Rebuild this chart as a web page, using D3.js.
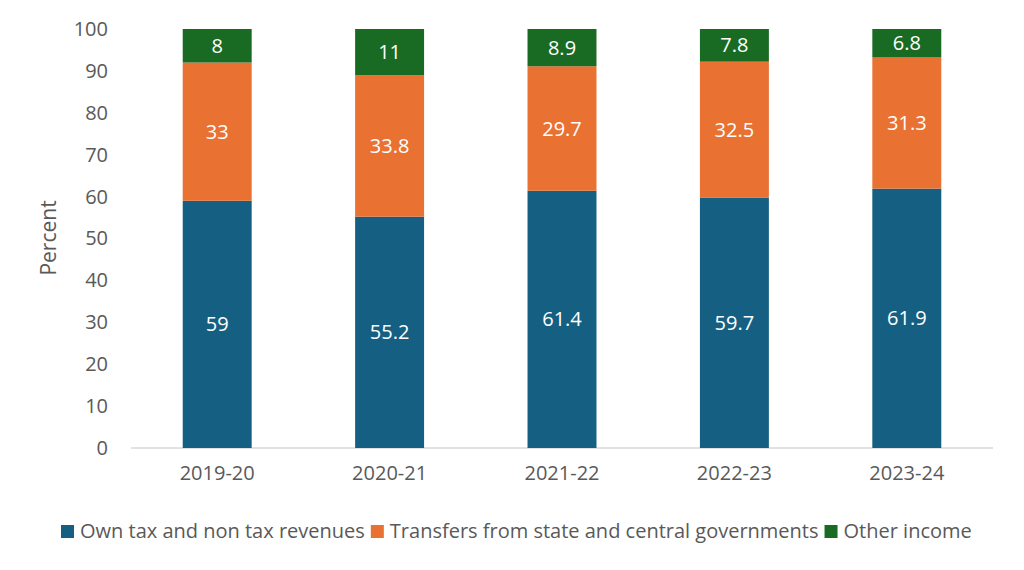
<!DOCTYPE html>
<html><head><meta charset="utf-8">
<script src="https://cdn.jsdelivr.net/npm/d3@7"></script>
<style>body{margin:0;background:#fff}svg{display:block}text{font-family:"Open Sans",sans-serif}</style>
</head><body><svg id="c" width="1024" height="570"></svg>
<script>
const categories = ["2019-20","2020-21","2021-22","2022-23","2023-24"];
const ownRevenue = [59,55.2,61.4,59.7,61.9];
const transfers = [33,33.8,29.7,32.5,31.3];
const otherIncome = [8,11,8.9,7.8,6.8];
const seriesNames = ["Own tax and non tax revenues","Transfers from state and central governments","Other income"];
const yTicks = [0,10,20,30,40,50,60,70,80,90,100];
const colors = ["#156082","#E97132","#196B24"];

const svg = d3.select("#c");
const x = d3.scaleBand().domain(categories).range([131,993]).paddingInner(0.6).paddingOuter(0.3);
const y = d3.scaleLinear().domain([0,100]).range([448,29]);
const rows = categories.map((c,i)=>({cat:c, s0:ownRevenue[i], s1:transfers[i], s2:otherIncome[i]}));
const stack = d3.stack().keys(["s0","s1","s2"])(rows);

const yAxis = d3.axisLeft(y).tickValues(yTicks).tickSize(0).tickPadding(0);
const ya = svg.append("g").attr("transform","translate(108,0)").call(yAxis);
ya.select(".domain").remove();
ya.selectAll("text").attr("font-size",20).attr("fill","#595959").attr("font-family","Open Sans");

svg.append("line").attr("x1",131).attr("x2",993).attr("y1",y(0)).attr("y2",y(0)).attr("stroke","#d9d9d9").attr("stroke-width",1.3);

stack.forEach((layer,k)=>{
  const g = svg.append("g");
  g.selectAll("rect").data(layer).join("rect")
    .attr("x",d=>x(d.data.cat)).attr("width",x.bandwidth())
    .attr("y",d=>y(d[1])).attr("height",d=>y(d[0])-y(d[1]))
    .attr("fill",colors[k]);
  g.selectAll("text").data(layer).join("text")
    .attr("x",d=>x(d.data.cat)+x.bandwidth()/2)
    .attr("y",d=>(y(d[0])+y(d[1]))/2)
    .attr("dy","0.35em").attr("text-anchor","middle")
    .attr("font-size",20).attr("fill","#fff")
    .text(d=>d[1]-d[0] ? String(+(d[1]-d[0]).toFixed(1)) : "");
});

const xAxis = d3.axisBottom(x).tickSize(0).tickPadding(0);
const xa = svg.append("g").attr("transform","translate(0,466)").call(xAxis);
xa.select(".domain").remove();
xa.selectAll("text").attr("font-size",20).attr("fill","#595959").attr("dy","0.71em");

svg.append("text").attr("transform","translate(56,238) rotate(-90)").attr("text-anchor","middle")
  .attr("font-size",21).attr("fill","#595959").text("Percent");

const leg = svg.append("g");
let lx = 61;
seriesNames.forEach((n,i)=>{
  leg.append("rect").attr("x",lx).attr("y",525).attr("width",13).attr("height",13).attr("fill",colors[i]);
  const t = leg.append("text").attr("x",lx+19).attr("y",531).attr("dy","0.35em").attr("font-size",20).attr("fill","#595959").text(n);
  lx += 19 + t.node().getComputedTextLength() + 6;
});
</script></body></html>
